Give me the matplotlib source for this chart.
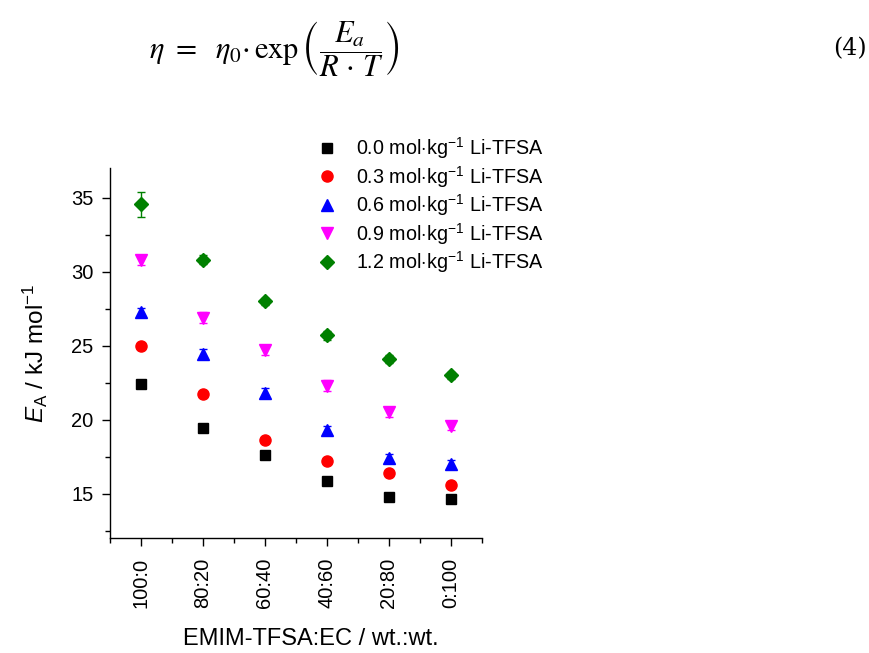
import matplotlib
matplotlib.use("Agg")
import matplotlib.pyplot as plt
import numpy as np

plt.rcParams['font.family'] = ['Liberation Sans', 'DejaVu Sans']
plt.rcParams['mathtext.fontset'] = 'custom'
plt.rcParams['mathtext.rm'] = 'Liberation Sans'
plt.rcParams['mathtext.it'] = 'Liberation Sans:italic'

categories = ["100:0", "80:20", "60:40", "40:60", "20:80", "0:100"]
series_labels = ["0.0 mol$\\cdot$kg$^{-1}$ Li-TFSA",
                 "0.3 mol$\\cdot$kg$^{-1}$ Li-TFSA",
                 "0.6 mol$\\cdot$kg$^{-1}$ Li-TFSA",
                 "0.9 mol$\\cdot$kg$^{-1}$ Li-TFSA",
                 "1.2 mol$\\cdot$kg$^{-1}$ Li-TFSA"]
ea_00 = [22.4, 19.45, 17.6, 15.85, 14.75, 14.65]
ea_03 = [25.0, 21.75, 18.65, 17.2, 16.4, 15.6]
ea_06 = [27.25, 24.45, 21.8, 19.3, 17.4, 17.0]
ea_09 = [30.8, 26.9, 24.7, 22.3, 20.5, 19.6]
ea_12 = [34.55, 30.8, 28.0, 25.7, 24.1, 23.0]
err_00 = [0.1, 0.1, 0.1, 0.1, 0.1, 0.1]
err_03 = [0.15, 0.15, 0.15, 0.15, 0.15, 0.15]
err_06 = [0.3, 0.3, 0.35, 0.3, 0.3, 0.3]
err_09 = [0.35, 0.35, 0.3, 0.35, 0.3, 0.3]
err_12 = [0.85, 0.3, 0.25, 0.3, 0.25, 0.25]

values = [ea_00, ea_03, ea_06, ea_09, ea_12]
errors = [err_00, err_03, err_06, err_09, err_12]
colors = ["#000000", "#ff0000", "#0000ff", "#ff00ff", "#008000"]
markers = ["s", "o", "^", "v", "D"]
sizes = [7.5, 8, 8.5, 8.5, 7.5]

fig = plt.figure(figsize=(8.7, 6.53), dpi=100)
ax = fig.add_axes([0.1264, 0.176, 0.4276, 0.5667])

x = np.arange(1, len(categories) + 1)
handles = []
for v, e, c, m, s, lab in zip(values, errors, colors, markers, sizes, series_labels):
    ax.errorbar(x, v, yerr=e, fmt='none', ecolor=c, elinewidth=1, capsize=3, capthick=1)
    h, = ax.plot(x, v, linestyle='none', marker=m, markersize=s, color=c,
                 markeredgecolor=c, label=lab)
    handles.append(h)

ax.set_xlim(0.5, 6.5)
ax.set_ylim(12, 37)
ax.set_xticks(x)
ax.set_xticklabels(categories, rotation=90, fontsize=14)
ax.set_xticks(np.arange(0.5, 6.6, 1.0), minor=True)
ax.set_yticks([15, 20, 25, 30, 35])
ax.set_yticks(np.arange(12.5, 37, 2.5), minor=True)
ax.tick_params(axis='both', which='major', direction='out', length=6, width=1, labelsize=14.5)
ax.tick_params(axis='both', which='minor', direction='out', length=3.5, width=1)
ax.tick_params(axis='x', pad=8)
ax.tick_params(axis='y', pad=6)
for sp in ['top', 'right']:
    ax.spines[sp].set_visible(False)
for sp in ['left', 'bottom']:
    ax.spines[sp].set_linewidth(1)

ax.set_ylabel("$E_{\\mathrm{A}}$ / kJ mol$^{-1}$", fontsize=17.5, labelpad=15)
fig.text(0.357, 0.004, "EMIM-TFSA:EC / wt.:wt.", fontsize=17, ha='center', va='bottom')

fig.legend(handles=handles, loc='upper left', bbox_to_anchor=(0.352, 0.805),
           frameon=False, fontsize=14.2, handletextpad=0.8, labelspacing=0.13,
           handlelength=1.3, borderaxespad=0)

fig.text(0.315, 0.925,
         r"$\eta\ =\ \ \eta_0{\cdot}\,\exp\left(\dfrac{E_a}{R\,\cdot\,T}\right)$",
         fontsize=22, ha='center', va='center', family='serif',
         math_fontfamily='stix')
fig.text(0.996, 0.925, "(4)", fontsize=17, ha='right', va='center',
         family='DejaVu Serif')

fig.savefig("out.png", dpi=100)
